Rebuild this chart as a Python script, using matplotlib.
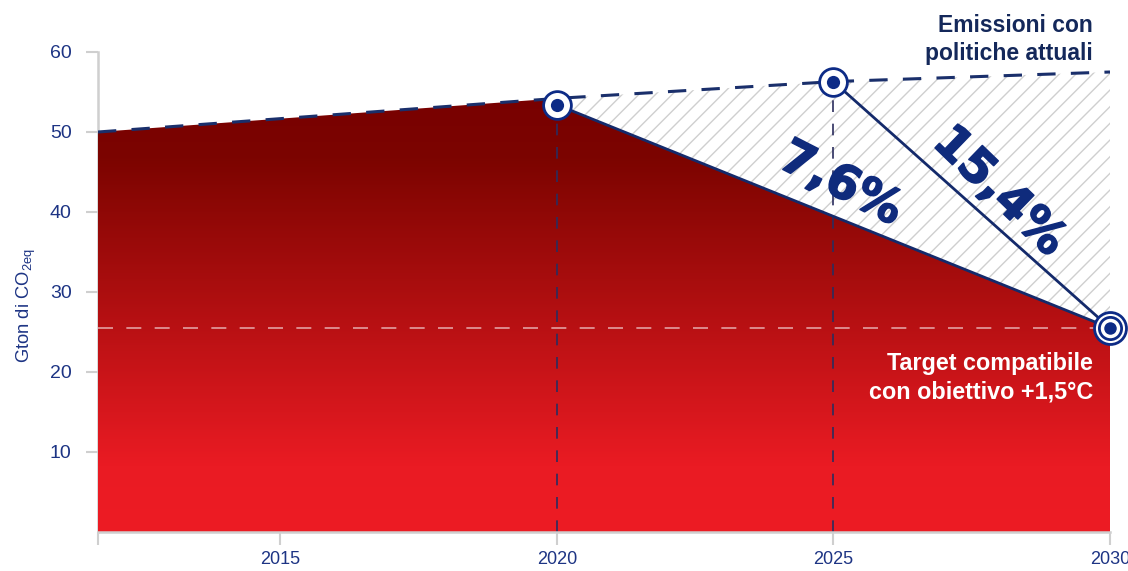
import matplotlib
matplotlib.use('Agg')
import matplotlib.pyplot as plt
import numpy as np
from matplotlib.colors import LinearSegmentedColormap
from matplotlib.patches import Polygon
import matplotlib.patheffects as pe

plt.rcParams['font.family'] = ['Liberation Sans', 'DejaVu Sans']
plt.rcParams['mathtext.fontset'] = 'custom'
plt.rcParams['mathtext.rm'] = 'Liberation Sans'
plt.rcParams['mathtext.it'] = 'Liberation Sans:italic'
plt.rcParams['hatch.linewidth'] = 1.0

# ---- data ----
policy_years = [2011.7, 2020, 2025, 2030]
policy_values = [50.0, 54.2, 56.3, 57.5]
target_years = [2020, 2030]
target_values = [53.4, 25.5]
steep_years = [2025, 2030]
steep_values = [56.3, 25.5]
x_ticks = [2011.7, 2015, 2020, 2025, 2030]
x_labels = ['', '2015', '2020', '2025', '2030']
y_ticks = [10, 20, 30, 40, 50, 60]
pct_labels = ['7,6%', '15,4%']

NAVY = '#16307a'
DNAVY = '#14285a'
TICKC = '#1d3484'
GRID = '#cfcfcf'
PCT = '#0f2b7c'

W, H = 1128, 571
fig = plt.figure(figsize=(W / 100, H / 100), dpi=100)
ax = fig.add_axes([98 / W, 1 - 532 / H, (1110 - 98) / W, (532 - 20) / H])
x0, x1 = policy_years[0], target_years[-1]
ax.set_xlim(x0, x1)
ax.set_ylim(0, 64)

# red gradient area
verts = [(x0, 0), (x0, policy_values[0]), (target_years[0], policy_values[1]),
         (target_years[0], target_values[0]), (target_years[1], target_values[1]), (x1, 0)]
poly = Polygon(verts, closed=True, facecolor='none', edgecolor='none')
ax.add_patch(poly)
cmap = LinearSegmentedColormap.from_list('red', [(0, '#ed1c24'), (0.15, '#ea1b23'),
                                                 (0.85, '#7c0400'), (1, '#780000')])
grad = np.linspace(0, 1, 256).reshape(-1, 1)
im = ax.imshow(grad, extent=[x0, x1, 0, 55], origin='lower', aspect='auto', cmap=cmap, zorder=1)
im.set_clip_path(poly)

# hatched gap region
hx = np.array([2020, 2025, 2030])
ax.fill_between(hx, np.interp(hx, target_years, target_values), np.interp(hx, policy_years, policy_values),
                facecolor='white', edgecolor=GRID, hatch='//', linewidth=0, zorder=1)

# white dashed horizontal at target level
ax.plot([x0, x1], [target_values[1]] * 2, color='white', alpha=0.6, lw=1.2, dashes=(9, 8), zorder=2)

# vertical dashed
ax.plot([2020, 2020], [0, target_values[0]], color='#2b2d5e', lw=1.2, dashes=(7, 7), zorder=2)
ax.plot([2025, 2025], [0, steep_values[0]], color='#2b2d5e', lw=1.2, dashes=(7, 7), zorder=2)

# lines
ax.plot(policy_years, policy_values, color='#1a2f6b', lw=2.2, dashes=(6, 5), zorder=3)
ax.plot(target_years, target_values, color='#142a6b', lw=2, zorder=3)
ax.plot(steep_years, steep_values, color='#142a6b', lw=2, zorder=3)

# markers
for xx, yy in [(2020, target_values[0]), (2025, steep_values[0])]:
    ax.plot([xx], [yy], 'o', ms=20, mfc='white', mec='#0d2b86', mew=2, zorder=5, clip_on=False)
    ax.plot([xx], [yy], 'o', ms=9.5, mfc='#0d2b86', mec='#0d2b86', mew=0, zorder=6, clip_on=False)
xx, yy = target_years[1], target_values[1]
ax.plot([xx], [yy], 'o', ms=23, mfc='white', mec='#0d2b86', mew=2, zorder=5, clip_on=False)
ax.plot([xx], [yy], 'o', ms=16, mfc='white', mec='#0d2b86', mew=2, zorder=6, clip_on=False)
ax.plot([xx], [yy], 'o', ms=9, mfc='#0d2b86', mec='#0d2b86', mew=0, zorder=7, clip_on=False)

# percentage labels
stroke = [pe.withStroke(linewidth=1.2, foreground=PCT)]
ax.text(2025.13, 43.4, pct_labels[0], rotation=-27, fontsize=34, fontweight='bold', color=PCT,
        family='DejaVu Sans', ha='center', va='center', rotation_mode='anchor', zorder=8,
        path_effects=stroke)
ax.text(2027.99, 42.5, pct_labels[1], rotation=-44, fontsize=34, fontweight='bold', color=PCT,
        family='DejaVu Sans', ha='center', va='center', rotation_mode='anchor', zorder=8,
        path_effects=stroke)

# annotation texts
fig.text(1093 / W, 1 - 14 / H, 'Emissioni con\npolitiche attuali', ha='right', va='top',
         fontsize=16.5, fontweight='bold', color=DNAVY, linespacing=1.3)
fig.text(1093 / W, 1 - 352 / H, 'Target compatibile\ncon obiettivo +1,5°C', ha='right', va='top',
         fontsize=16.8, fontweight='bold', color='white', linespacing=1.3, zorder=10)

# axes styling
for s in ['top', 'right']:
    ax.spines[s].set_visible(False)
ax.spines['left'].set_color(GRID)
ax.spines['bottom'].set_color(GRID)
ax.spines['left'].set_linewidth(1.8)
ax.spines['bottom'].set_linewidth(1.8)
ax.spines['left'].set_bounds(0, 60)
ax.spines['left'].set_zorder(0.5)
ax.set_xticks(x_ticks)
ax.set_xticklabels(x_labels)
ax.set_yticks(y_ticks)
ax.tick_params(axis='both', colors=GRID, labelcolor=TICKC, width=1.5, length=9)
ax.tick_params(axis='y', pad=10, labelsize=14)
ax.tick_params(axis='x', pad=5, labelsize=13)

fig.text(26 / W, 1 - 306 / H, r'Gton di CO$_{\mathrm{2eq}}$', rotation=90, ha='center', va='center',
         fontsize=13.2, color=TICKC)

fig.savefig('out.png', dpi=100)
